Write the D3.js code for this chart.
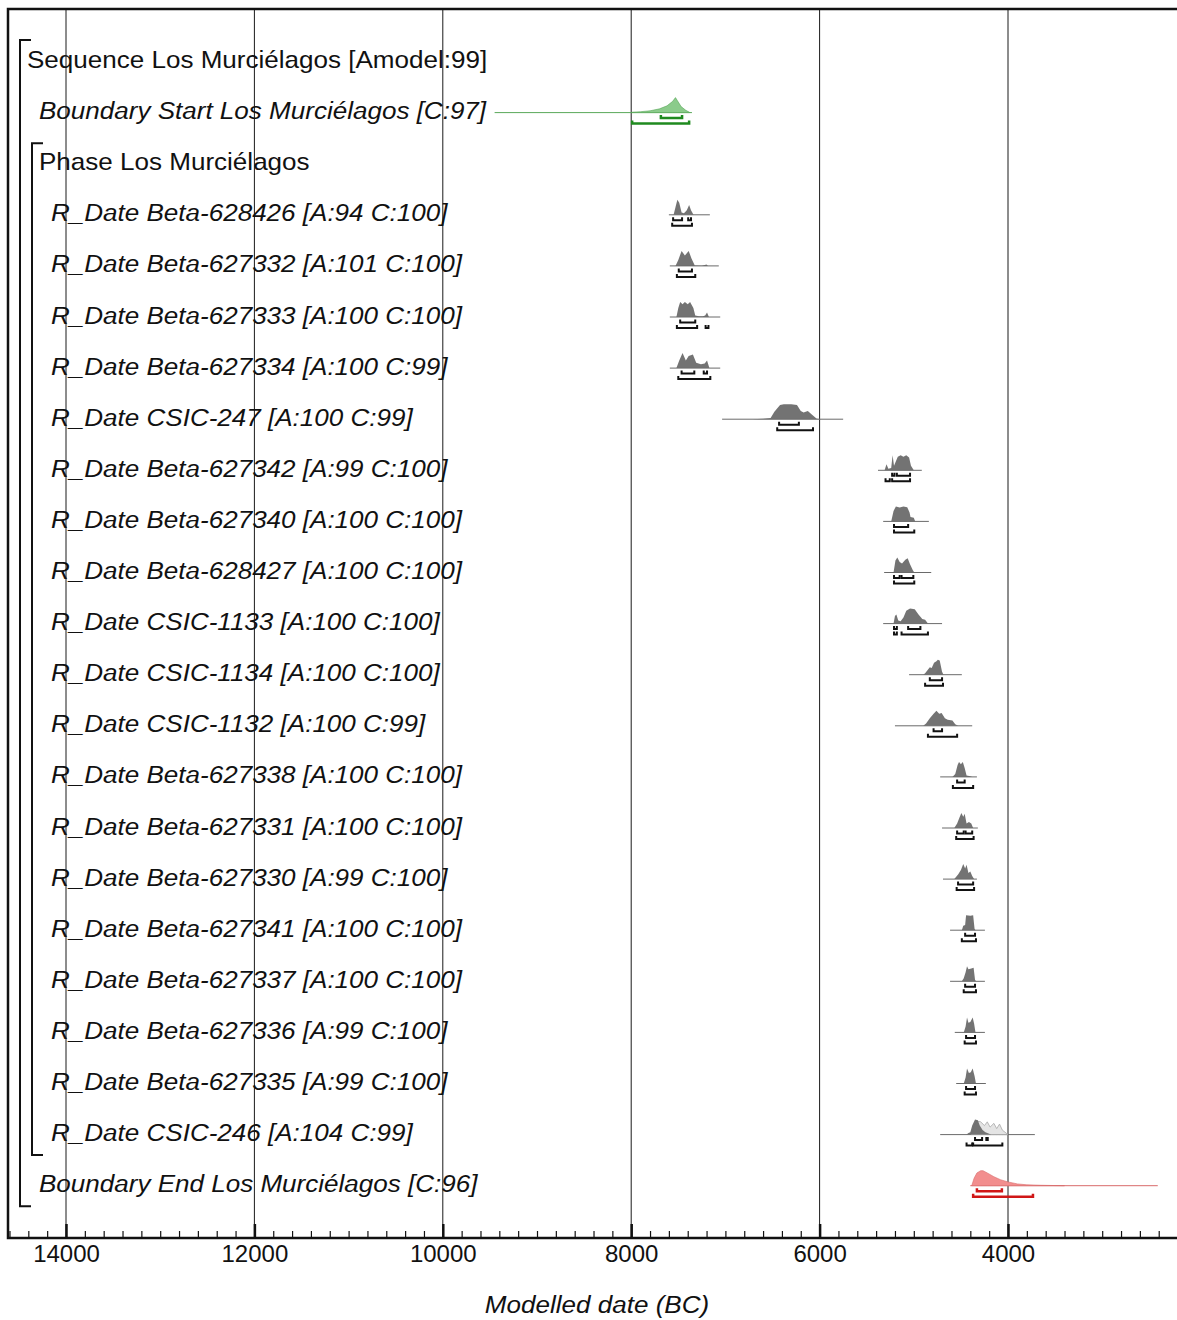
<!DOCTYPE html>
<html>
<head>
<meta charset="utf-8">
<script src="https://cdn.jsdelivr.net/npm/d3@7"></script>
<style>
  body { margin: 0; background: #fff; }
  svg { display: block; }
  text { font-family: "Liberation Sans", Arial, sans-serif; }
</style>
</head>
<body>
<div id="chart"></div>
<script>
// ---- data (years BC) ----
const rowKinds = ["Sequence", "Boundary", "Phase",
  "R_Date", "R_Date", "R_Date", "R_Date", "R_Date", "R_Date", "R_Date", "R_Date", "R_Date", "R_Date",
  "R_Date", "R_Date", "R_Date", "R_Date", "R_Date", "R_Date", "R_Date", "R_Date", "R_Date",
  "Boundary"];
const rowNames = ["Los Murciélagos", "Start Los Murciélagos", "Los Murciélagos",
  "Beta-628426", "Beta-627332", "Beta-627333", "Beta-627334", "CSIC-247", "Beta-627342",
  "Beta-627340", "Beta-628427", "CSIC-1133", "CSIC-1134", "CSIC-1132", "Beta-627338",
  "Beta-627331", "Beta-627330", "Beta-627341", "Beta-627337", "Beta-627336", "Beta-627335",
  "CSIC-246", "End Los Murciélagos"];
const rowIndices = ["[Amodel:99]", "[C:97]", "",
  "[A:94 C:100]", "[A:101 C:100]", "[A:100 C:100]", "[A:100 C:99]", "[A:100 C:99]", "[A:99 C:100]",
  "[A:100 C:100]", "[A:100 C:100]", "[A:100 C:100]", "[A:100 C:100]", "[A:100 C:99]", "[A:100 C:100]",
  "[A:100 C:100]", "[A:99 C:100]", "[A:100 C:100]", "[A:100 C:100]", "[A:99 C:100]", "[A:99 C:100]",
  "[A:104 C:99]", "[C:96]"];

// rows that carry a distribution (row index -> everything below, same order)
const distRows = [1, 3, 4, 5, 6, 7, 8, 9, 10, 11, 12, 13, 14, 15, 16, 17, 18, 19, 20, 21, 22];

const lineExtents = [
  [9450, 7355], [7600, 7165], [7590, 7070], [7590, 7055], [7590, 7055], [7035, 5750],
  [5380, 4915], [5325, 4840], [5315, 4815], [5325, 4700], [5050, 4490], [5200, 4380],
  [4720, 4330], [4700, 4320], [4690, 4330], [4615, 4245], [4615, 4245], [4565, 4245],
  [4550, 4235], [4720, 3715], [4400, 2410]
];

const posteriors = [
  [[7990, 0.03], [7900, 0.06], [7800, 0.12], [7700, 0.25], [7620, 0.45], [7560, 0.75], [7530, 1.0], [7510, 0.8], [7470, 0.4], [7420, 0.15], [7380, 0.02]],
  [[7550, 0], [7530, 0.5], [7510, 1.0], [7490, 0.8], [7465, 0.15], [7440, 0.1], [7410, 0.3], [7385, 0.65], [7365, 0.3], [7340, 0.02]],
  [[7530, 0], [7500, 0.4], [7465, 1.0], [7430, 0.7], [7390, 1.0], [7360, 0.5], [7325, 0.03], [7250, 0.01], [7200, 0.1], [7185, 0]],
  [[7520, 0], [7500, 0.6], [7480, 1.0], [7455, 0.85], [7430, 1.0], [7400, 0.85], [7375, 1.0], [7340, 0.6], [7320, 0.1], [7280, 0.05], [7240, 0.05], [7215, 0.1], [7195, 0.3], [7175, 0]],
  [[7520, 0], [7490, 0.5], [7455, 1.0], [7420, 0.5], [7390, 0.8], [7345, 0.9], [7310, 0.35], [7260, 0.25], [7220, 0.3], [7195, 0.5], [7170, 0]],
  [[6710, 0], [6600, 0.03], [6520, 0.08], [6480, 0.5], [6420, 0.95], [6380, 1.0], [6300, 1.0], [6240, 0.95], [6200, 0.55], [6170, 0.45], [6125, 0.55], [6080, 0.3], [6030, 0.03], [5980, 0]],
  [[5310, 0], [5290, 0.4], [5270, 0.1], [5240, 0.15], [5225, 1.0], [5210, 0.3], [5190, 0.6], [5170, 0.9], [5140, 1.0], [5110, 0.9], [5080, 1.0], [5050, 0.85], [5030, 0.3], [5000, 0]],
  [[5240, 0], [5215, 0.7], [5190, 1.0], [5150, 0.92], [5110, 1.0], [5070, 0.95], [5045, 0.6], [5035, 0.3], [5000, 0.25], [4985, 0]],
  [[5215, 0], [5195, 0.8], [5175, 1.0], [5150, 0.7], [5125, 0.6], [5090, 0.85], [5065, 0.95], [5040, 0.55], [5010, 0.15], [4995, 0]],
  [[5215, 0], [5200, 0.5], [5185, 0.6], [5165, 0.2], [5140, 0.15], [5110, 0.4], [5080, 0.85], [5040, 1.0], [4990, 0.95], [4950, 0.6], [4910, 0.3], [4880, 0.25], [4850, 0]],
  [[4900, 0], [4880, 0.1], [4855, 0.3], [4830, 0.5], [4810, 0.45], [4785, 0.8], [4760, 0.9], [4745, 1.0], [4725, 0.95], [4700, 0.2], [4685, 0]],
  [[4900, 0], [4870, 0.15], [4830, 0.5], [4790, 0.8], [4760, 1.0], [4730, 0.8], [4705, 0.85], [4670, 0.5], [4640, 0.4], [4590, 0.35], [4560, 0.1], [4530, 0]],
  [[4590, 0], [4560, 0.2], [4535, 0.8], [4520, 1.0], [4500, 0.85], [4480, 1.0], [4460, 0.6], [4440, 0.1], [4400, 0.05], [4380, 0]],
  [[4570, 0], [4540, 0.3], [4515, 0.7], [4495, 1.0], [4475, 0.75], [4460, 0.95], [4440, 0.3], [4415, 0.4], [4390, 0.3], [4370, 0]],
  [[4570, 0], [4530, 0.3], [4500, 0.6], [4475, 1.0], [4455, 0.7], [4440, 0.95], [4420, 0.4], [4400, 0.5], [4380, 0.2], [4360, 0]],
  [[4490, 0], [4475, 0.3], [4455, 0.35], [4445, 1.0], [4400, 0.97], [4370, 1.0], [4355, 0.1], [4345, 0]],
  [[4490, 0], [4470, 0.2], [4450, 0.6], [4435, 1.0], [4420, 0.8], [4390, 0.85], [4365, 0.9], [4350, 0.1], [4340, 0]],
  [[4470, 0], [4450, 0.4], [4435, 1.0], [4420, 0.65], [4400, 0.7], [4375, 1.0], [4360, 0.6], [4345, 0]],
  [[4470, 0], [4450, 0.4], [4435, 1.0], [4415, 0.7], [4395, 0.75], [4375, 1.0], [4355, 0.5], [4340, 0]],
  [[4440, 0], [4420, 0.1], [4400, 0.15], [4380, 0.6], [4350, 1.0], [4320, 0.95], [4300, 0.6], [4270, 0.3], [4240, 0.15], [4200, 0.05], [4180, 0]],
  [[4385, 0], [4360, 0.5], [4330, 0.85], [4290, 1.0], [4265, 1.0], [4220, 0.85], [4150, 0.6], [4080, 0.4], [4000, 0.25], [3900, 0.12], [3800, 0.06], [3650, 0.03], [3500, 0.01], [3400, 0]]
];

// unmodelled (likelihood) outline visible behind CSIC-246
const priorCSIC246 = [[4390, 0], [4360, 0.6], [4330, 0.9], [4290, 0.85], [4250, 0.6], [4220, 0.85], [4190, 0.5], [4150, 0.75], [4120, 0.4], [4090, 0.7], [4060, 0.3], [4020, 0.1], [4000, 0]];

const ranges68 = [
  [[7685, 7460]],
  [[7555, 7460], [7395, 7365]],
  [[7495, 7355]],
  [[7480, 7320]],
  [[7465, 7330], [7230, 7195]],
  [[6430, 6220]],
  [[5230, 5205], [5180, 5040]],
  [[5210, 5060]],
  [[5210, 5150], [5130, 5005]],
  [[5210, 5180], [5060, 4930]],
  [[4830, 4700]],
  [[4790, 4700]],
  [[4540, 4460]],
  [[4540, 4470], [4450, 4380]],
  [[4530, 4370]],
  [[4455, 4350]],
  [[4455, 4350]],
  [[4445, 4350]],
  [[4445, 4350]],
  [[4350, 4275], [4230, 4215]],
  [[4330, 4065]]
];

const ranges95 = [
  [[7990, 7385]],
  [[7565, 7355]],
  [[7515, 7320]],
  [[7515, 7300], [7210, 7180]],
  [[7500, 7160]],
  [[6450, 6070]],
  [[5300, 5255], [5230, 5040]],
  [[5210, 4995]],
  [[5210, 4995]],
  [[5210, 5180], [5130, 4850]],
  [[4880, 4690]],
  [[4850, 4540]],
  [[4585, 4370]],
  [[4550, 4365]],
  [[4545, 4360]],
  [[4490, 4340]],
  [[4470, 4340]],
  [[4460, 4340]],
  [[4460, 4340]],
  [[4440, 4380], [4370, 4060]],
  [[4370, 3735]]
];

const majorTicks = [14000, 12000, 10000, 8000, 6000, 4000];

// ---- layout ----
const width = 1177, height = 1320;
const frame = { left: 8, top: 9, bottom: 1238 };
const stretch = 1.085; // labels in the original are a little wider than Liberation Sans

const x = d3.scaleLinear().domain([14000, 4000]).range([66, 1008]);
const rowY = d3.scaleLinear().domain([0, rowKinds.length - 1]).range([60, 1184.2]);
const h = d3.scaleLinear().domain([0, 1]).range([0, 15]);

const svg = d3.select("#chart")
  .append("svg")
  .attr("width", width)
  .attr("height", height);

// vertical gridlines at the major ticks
svg.selectAll(".grid")
  .data(majorTicks)
  .join("line")
  .attr("x1", d => x(d))
  .attr("x2", d => x(d))
  .attr("y1", frame.top)
  .attr("y2", frame.bottom)
  .attr("stroke", "#1a1a1a")
  .attr("stroke-width", 1);

// frame (right side runs off the picture)
svg.append("rect")
  .attr("x", frame.left)
  .attr("y", frame.top)
  .attr("width", 1250)
  .attr("height", frame.bottom - frame.top)
  .attr("fill", "none")
  .attr("stroke", "#111")
  .attr("stroke-width", 2.5);

// minor ticks every 200 years
const minorTicks = d3.range(14600, 2000, -200).filter(d => d % 2000 !== 0);
svg.append("g")
  .attr("transform", `translate(0,${frame.bottom})`)
  .call(d3.axisBottom(x).tickValues(minorTicks).tickSize(-7).tickFormat(""))
  .call(g => g.select(".domain").remove())
  .selectAll(".tick line")
  .attr("stroke", "#111")
  .attr("stroke-width", 1.2);

// major ticks + labels
svg.append("g")
  .attr("transform", `translate(0,${frame.bottom})`)
  .call(d3.axisBottom(x).tickValues(majorTicks).tickSize(-14).tickPadding(7).tickFormat(d3.format("d")))
  .call(g => g.select(".domain").remove())
  .call(g => g.selectAll(".tick line").attr("stroke", "#111").attr("stroke-width", 2.5))
  .call(g => g.selectAll(".tick text")
    .attr("fill", "#111")
    .style("font-size", "24px")
    .style("font-family", "'Liberation Sans', Arial, sans-serif"));

// axis title
svg.append("text")
  .attr("transform", `translate(597,1313) scale(${stretch},1)`)
  .attr("text-anchor", "middle")
  .style("font-size", "24px")
  .style("font-style", "italic")
  .attr("fill", "#111")
  .text("Modelled date (BC)");

// row labels
const indent = { Sequence: 27, Boundary: 39, Phase: 39, R_Date: 51 };
svg.selectAll(".label")
  .data(rowKinds)
  .join("text")
  .attr("transform", (d, i) => `translate(${indent[d]},${rowY(i) + 8}) scale(${stretch},1)`)
  .style("font-size", "24px")
  .style("font-style", d => (d === "Sequence" || d === "Phase") ? "normal" : "italic")
  .attr("fill", "#111")
  .text((d, i) => [d, rowNames[i], rowIndices[i]].filter(s => s).join(" "));

// group brackets
const lastDateRow = rowKinds.lastIndexOf("R_Date");
const brackets = [
  { x: 20, y1: rowY(0) - 20, y2: rowY(rowKinds.length - 1) + 22 },
  { x: 32, y1: rowY(2) - 19, y2: rowY(lastDateRow) + 22 }
];
svg.selectAll(".bracket")
  .data(brackets)
  .join("path")
  .attr("d", d => `M${d.x + 11},${d.y1}H${d.x}V${d.y2}H${d.x + 11}`)
  .attr("fill", "none")
  .attr("stroke", "#111")
  .attr("stroke-width", 2);

// distributions
function colours(k) {
  if (k === 0) return { fill: "#8bcb8b", line: "#5aa85a", range: "#1f8a1f" };
  if (k === distRows.length - 1) return { fill: "#f28e8e", line: "#d96a6a", range: "#d01616" };
  return { fill: "#6c6c6c", line: "#6a6a6a", range: "#111" };
}

const dists = svg.append("g");

distRows.forEach((row, k) => {
  const base = rowY(row) + 1.5;
  const c = colours(k);
  const boundary = k === 0 || k === distRows.length - 1;
  const area = d3.area()
    .x(d => x(d[0]))
    .y0(base)
    .y1(d => base - h(d[1]));

  dists.append("line")
    .attr("x1", x(lineExtents[k][0]))
    .attr("x2", x(lineExtents[k][1]))
    .attr("y1", base)
    .attr("y2", base)
    .attr("stroke", c.line)
    .attr("stroke-width", 1);

  if (rowNames[row] === "CSIC-246") {
    dists.append("path")
      .datum(priorCSIC246)
      .attr("d", area)
      .attr("fill", "#e4e4e4")
      .attr("stroke", "#a8a8a8")
      .attr("stroke-width", 0.8);
  }

  dists.append("path")
    .datum(posteriors[k])
    .attr("d", area)
    .attr("fill", c.fill)
    .attr("fill-opacity", boundary ? 1 : 0.95)
    .attr("stroke", boundary ? c.line : "none")
    .attr("stroke-width", 0.6);

  const bracket = (r, y) => `M${x(r[0])},${y - 3}V${y}H${x(r[1])}V${y - 3}`;
  dists.selectAll(null)
    .data(ranges68[k])
    .join("path")
    .attr("d", r => bracket(r, base + 5.5))
    .attr("fill", "none")
    .attr("stroke", c.range)
    .attr("stroke-width", boundary ? 2.5 : 2);
  dists.selectAll(null)
    .data(ranges95[k])
    .join("path")
    .attr("d", r => bracket(r, base + 11))
    .attr("fill", "none")
    .attr("stroke", c.range)
    .attr("stroke-width", boundary ? 2.5 : 2);
});
</script>
</body>
</html>
